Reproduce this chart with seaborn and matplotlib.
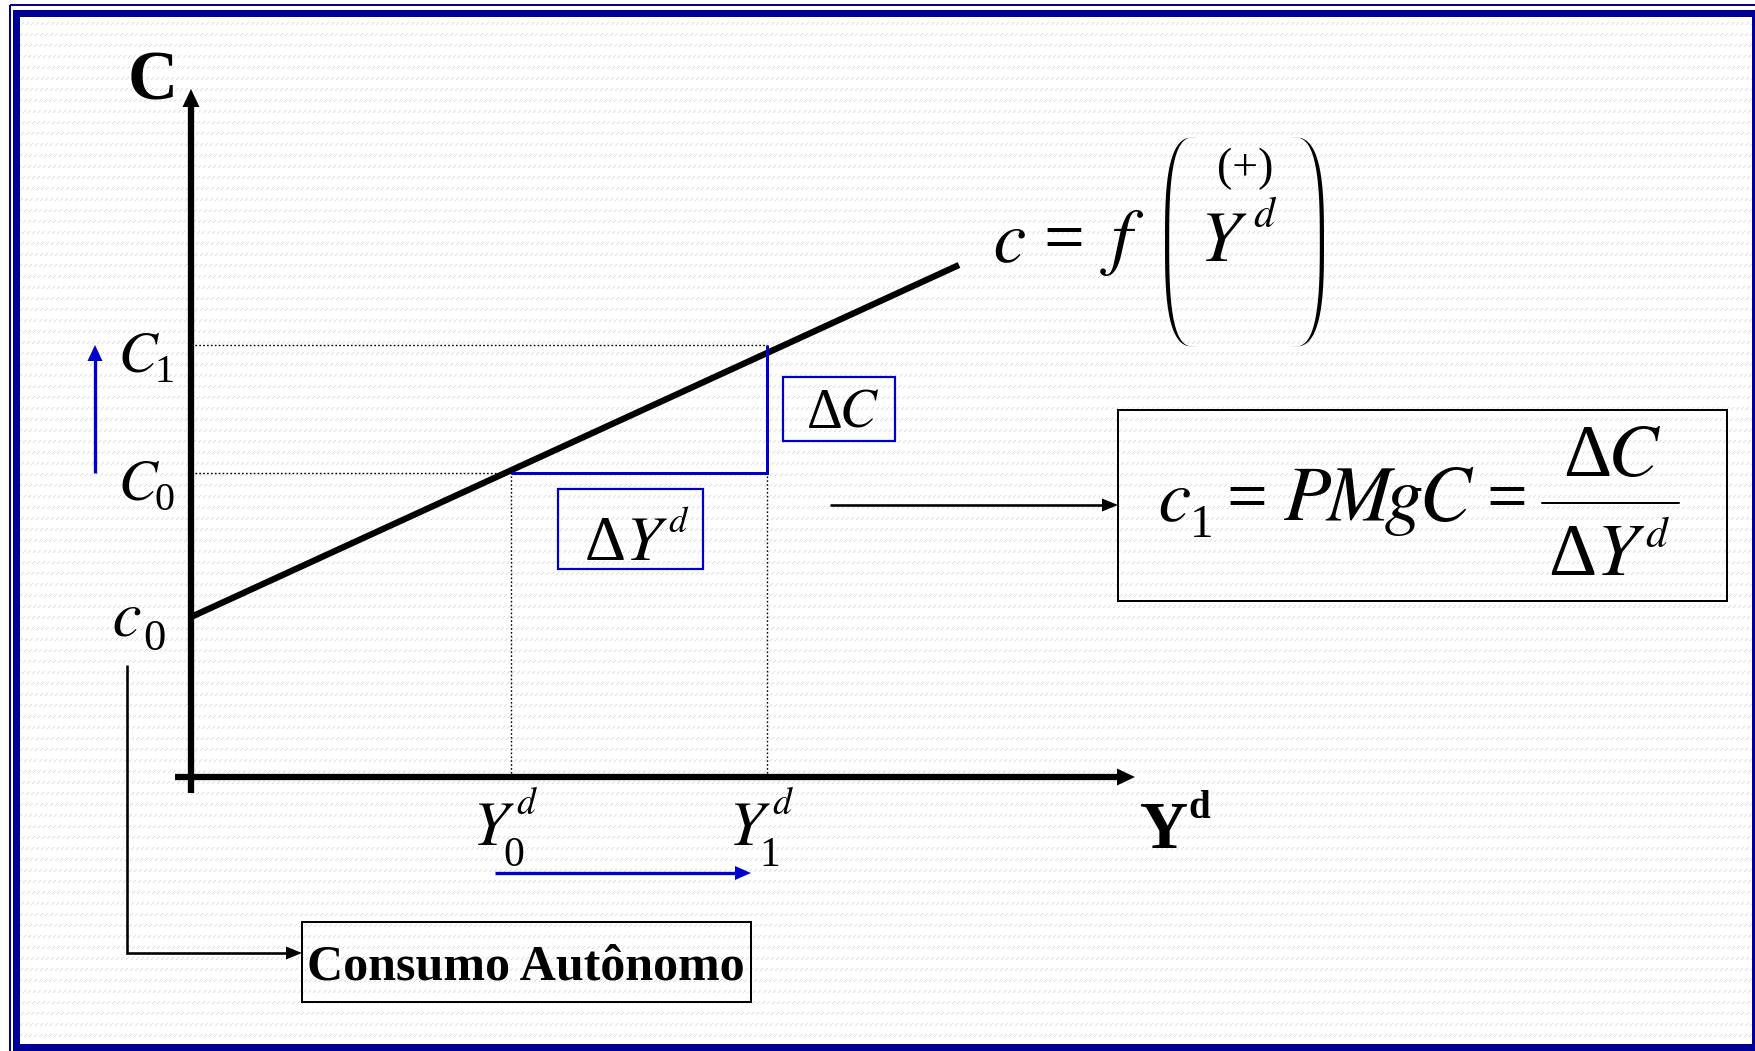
import numpy as np
import matplotlib
matplotlib.use("Agg")
import matplotlib.pyplot as plt
import seaborn as sns
from matplotlib.patches import Rectangle, Polygon

# ---------------- data (diagram units) ----------------
cons_Yd = [0.0, 24.0]          # disposable income along the consumption line
cons_C = [5.0, 16.0]           # consumption c = c0 + c1*Yd
c0_level = 5.0                 # autonomous consumption
Yd_levels = [10.0, 18.0]       # Y0^d, Y1^d
C_levels = [9.5, 13.5]         # C0, C1
level_subs = ["0", "1"]
x_axis_range = [-0.5, 29.5]
y_axis_range = [-0.5, 21.5]

# ---------------- layout helpers ----------------
W, H = 1755, 1051
OX, OY, U = 191.0, 777.0, 32.0   # pixel origin and pixels per unit


def px(x):
    return OX + U * x


def py(y):
    return OY - U * y


sns.set_theme(style="white")
plt.rcParams["font.family"] = ["Liberation Serif", "DejaVu Serif"]

fig = plt.figure(figsize=(W / 100, H / 100), dpi=100)
fig.patch.set_facecolor("white")

axp = fig.add_axes([0, 0, 1, 1])
axp.axis("off")
axd = fig.add_axes([0, 0, 1, 1])
axd.axis("off")
axd.patch.set_alpha(0)

BLUE = "#0000CC"
FRAME = "#000099"
PT = 0.72  # points per pixel at 100 dpi

# ---------------- background texture ----------------
yy, xx = np.mgrid[16:1043, 20:1752]
mask = ((yy % 11) < 3) & (((xx + yy) % 5) == 0)
tex = np.where(mask, 0.84, 1.0)
axp.imshow(tex, cmap="gray", vmin=0, vmax=1, extent=(20, 1752, 1043, 16),
           interpolation="nearest", aspect="auto", zorder=0)
axp.set_xlim(0, W)
axp.set_ylim(H, 0)

# frame
axp.add_patch(Rectangle((16.5, 12.5), 1755.5 - 16.5, 1046.5 - 12.5, fill=False,
                        ec=FRAME, lw=7 * PT, zorder=5))
axp.add_patch(Rectangle((10, 5), 1900, 1200, fill=False, ec=FRAME, lw=2 * PT, zorder=5))

axd.set_xlim(-OX / U, (W - OX) / U)
axd.set_ylim(-(H - OY) / U, OY / U)


def head_d(tx, ty, direction, L, hw, color):
    """arrow head on data axes; L, hw in pixels"""
    l, w = L / U, hw / U
    if direction == "up":
        pts = [(tx, ty), (tx - w, ty - l), (tx + w, ty - l)]
    else:
        pts = [(tx, ty), (tx - l, ty + w), (tx - l, ty - w)]
    axd.add_patch(Polygon(pts, closed=True, fc=color, ec="none", zorder=6))


def head_p(tx, ty, direction, L, hw, color):
    if direction == "right":
        pts = [(tx, ty), (tx - L, ty - hw), (tx - L, ty + hw)]
    else:
        pts = [(tx, ty), (tx - hw, ty + L), (tx + hw, ty + L)]
    axp.add_patch(Polygon(pts, closed=True, fc=color, ec="none", zorder=6))


# ---------------- axes of the diagram ----------------
AX_LW = 6.3 * PT
axd.plot([0, 0], [y_axis_range[0], y_axis_range[1] - 8 / U], color="black",
         lw=AX_LW, solid_capstyle="butt", zorder=4)
head_d(0, y_axis_range[1], "up", 18, 8.5, "black")
axd.plot([x_axis_range[0], x_axis_range[1] - 8 / U], [0, 0], color="black",
         lw=AX_LW, solid_capstyle="butt", zorder=4)
head_d(x_axis_range[1], 0, "right", 18, 8.5, "black")

# consumption function
sns.lineplot(x=cons_Yd, y=cons_C, ax=axd, color="black", lw=6.3 * PT,
             solid_capstyle="butt", zorder=4, legend=False)

# dotted guides
DOT = dict(color="black", lw=1.0, ls=(0, (1.2, 1.6)), zorder=3)
Y0, Y1 = Yd_levels
C0, C1 = C_levels
axd.plot([0, Y1], [C1, C1], **DOT)
axd.plot([0, Y0], [C0, C0], **DOT)
axd.plot([Y0, Y0], [0, C0], **DOT)
axd.plot([Y1, Y1], [0, C1], **DOT)

# blue step (ΔY, ΔC)
axd.plot([Y0, Y1, Y1], [C0, C0, C1], color=BLUE, lw=3 * PT,
         solid_joinstyle="miter", solid_capstyle="butt", zorder=5)

# shift arrows
xa = -3.0
axd.plot([xa, xa], [C0, C1 - 10 / U], color=BLUE, lw=3.3 * PT, solid_capstyle="butt", zorder=5)
head_d(xa, C1, "up", 16, 7.5, BLUE)
ya = -3.0
axd.plot([Y0 - 0.5, Y1 - 0.5 - 10 / U], [ya, ya], color=BLUE, lw=3.3 * PT,
         solid_capstyle="butt", zorder=5)
head_d(Y1 - 0.5, ya, "right", 16, 7, BLUE)

ITALIC = ["FreeSerif", "Liberation Serif", "DejaVu Serif"]
ROMAN = ["Liberation Serif", "FreeSerif", "DejaVu Serif"]


# ---------------- text helper ----------------
def T(x, y, s, size, style="italic", weight="normal", ha="left", color="black"):
    fam = ITALIC if style == "italic" else ROMAN
    axp.text(x, y, s, fontsize=size, fontstyle=style, fontweight=weight, ha=ha,
             va="baseline", color=color, zorder=7, family=fam)


# axis titles
T(153, 99, "C", 50, style="normal", weight="bold", ha="center")
T(1140, 848, "Y", 48, style="normal", weight="bold")
T(1188, 818, "d", 28, style="normal", weight="bold")

# level labels on the C axis
for lev, sub in zip(C_levels, level_subs):
    base = py(lev) + 26
    T(119, base, "C", 42)
    T(155, base + 11, sub, 29, style="normal")
T(112, py(c0_level) + 19, "c", 47)
T(143, py(c0_level) + 33, "0", 32, style="normal")

# level labels on the Yd axis
for lev, sub in zip(Yd_levels, level_subs):
    x = px(lev)
    T(x - 40, 845, "Y", 46)
    T(x + 5, 814, "d", 27)
    T(x - 8, 866, sub, 30, style="normal")

# ΔC and ΔY^d boxes
axp.add_patch(Rectangle((783, 377), 112, 64, fill=False, ec=BLUE, lw=2.2 * PT, zorder=6))
T(807, 428, "Δ", 40, style="normal")
T(841, 428, "C", 40)
axp.add_patch(Rectangle((558, 489), 145, 80, fill=False, ec=BLUE, lw=2.2 * PT, zorder=6))
T(585, 560, "Δ", 46, style="normal")
T(624, 560, "Y", 46)
T(668, 532, "d", 26)

# consumption function expression
T(993, 261, "c", 53)
T(1064, 261, "=", 52, style="normal", ha="center")
T(1106, 261, "f", 54)
T(1198, 261, "Y", 52)
T(1253, 227, "d", 30)
T(1245, 180, "(+)", 33, style="normal", ha="center")


def paren(x_tip, x_ext, ytop, ybot, thick):
    yc, h = (ytop + ybot) / 2, (ybot - ytop) / 2
    s = np.linspace(-1, 1, 200)
    n = 3.0
    prof = (1 - np.abs(s) ** n) ** (1 / n)
    sign = 1 if x_tip > x_ext else -1
    w = abs(x_tip - x_ext)
    outer = x_tip - sign * w * prof
    inner = outer + sign * (0.6 + thick * np.sqrt(np.clip(1 - np.abs(s) ** 4, 0, 1)))
    yv = yc + h * s
    pts = np.column_stack([np.concatenate([outer, inner[::-1]]),
                           np.concatenate([yv, yv[::-1]])])
    axp.add_patch(Polygon(pts, closed=True, fc="black", ec="none", zorder=7))


paren(1197, 1165, 137, 347, 3.6)
paren(1291, 1324, 137, 347, 3.6)

# arrow to the formula box
axp.plot([830, 1104], [505, 505], color="black", lw=2.6 * PT, solid_capstyle="butt", zorder=6)
head_p(1118, 505, "right", 16, 6.5, "black")

# formula box
axp.add_patch(Rectangle((1118, 410), 609, 191, fill=False, ec="black", lw=2 * PT, zorder=6))
T(1158, 520, "c", 53)
T(1190, 537, "1", 34, style="normal")
T(1247, 520, "=", 52, style="normal", ha="center")
T(1284, 520, "PMgC", 56)
T(1507, 520, "=", 52, style="normal", ha="center")
axp.plot([1542, 1679], [503, 503], color="black", lw=2 * PT, zorder=6)
T(1563, 476, "Δ", 54, style="normal")
T(1610, 476, "C", 54)
T(1548, 575, "Δ", 54, style="normal")
T(1594, 575, "Y", 54)
T(1645, 547, "d", 31)

# autonomous consumption connector and box
axp.plot([127, 127, 288], [665, 953, 953], color="black", lw=2.6 * PT,
         solid_joinstyle="miter", solid_capstyle="butt", zorder=6)
head_p(302, 953, "right", 16, 6.5, "black")
axp.add_patch(Rectangle((302, 922), 449, 80, fill=False, ec="black", lw=2 * PT, zorder=6))
T(526, 980, "Consumo Autônomo", 36, style="normal", weight="bold", ha="center")

fig.savefig("out.png", dpi=100)
